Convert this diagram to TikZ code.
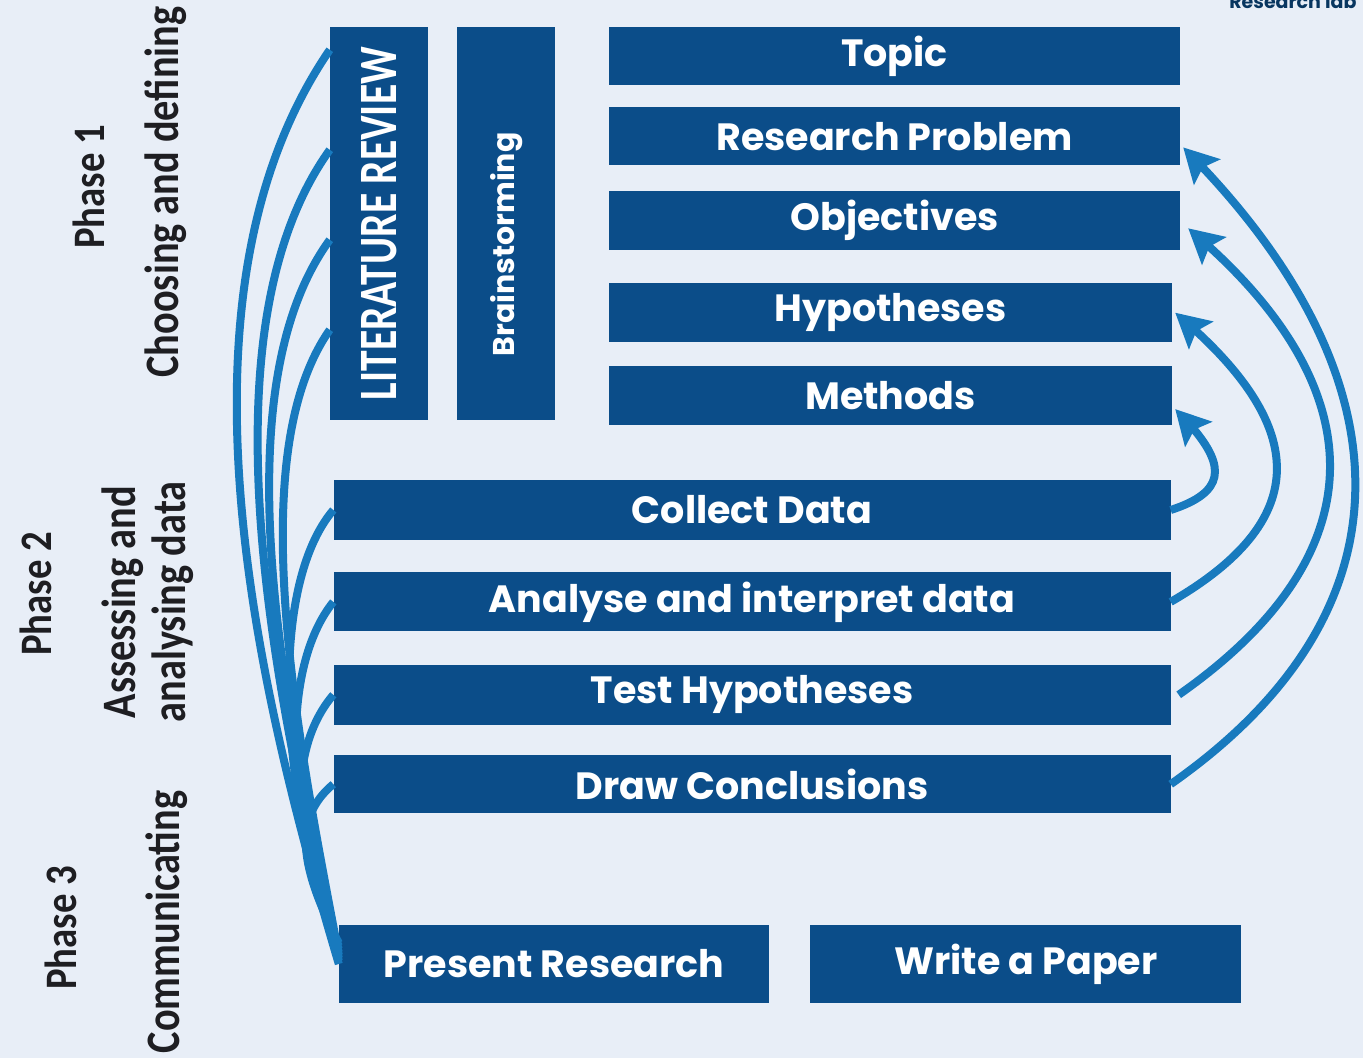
\documentclass[tikz,border=0pt]{standalone}
\usepackage{fontspec}
\newfontfamily\boxfont{Poppins}
\newfontfamily\labelfont{Carlito}
\usetikzlibrary{arrows.meta, bending, positioning}
\definecolor{bgpaper}{RGB}{232,238,247}
\definecolor{barblue}{RGB}{11,77,137}
\definecolor{curveblue}{RGB}{24,122,190}
\definecolor{labelgray}{RGB}{30,30,34}
\newcommand{\narrow}[2][0.84]{\scalebox{#1}[1]{#2}}
\tikzset{%
  bar/.style={fill=barblue, text=white, inner sep=0pt, minimum height=59pt,
    font=\boxfont\bfseries\fontsize{38}{42}\selectfont},
  column/.style={bar, minimum width=98pt, minimum height=393pt},
  phase/.style={text=labelgray, inner sep=0pt, rotate=90,
    font=\labelfont\bfseries\fontsize{48}{50}\selectfont},
  phase title/.style={phase, font=\labelfont\bfseries\fontsize{45}{48}\selectfont},
  branch/.style={draw=curveblue, line width=8pt},
  loopback/.style={draw=curveblue, line width=8pt,
    -{Stealth[length=34pt,width=36pt,inset=6pt]}},
}

\begin{document}
\begin{tikzpicture}[x=1pt, y=1pt]
  \fill[bgpaper] (0,0) rectangle (1363,1058);
  \useasboundingbox (0,0) rectangle (1363,1058);

  % phase labels
  \node[phase title] (p1) at (89,871) {\narrow[0.86]{Phase 1}};
  \node[phase] (p1text) at (166,866) {\narrow{Choosing and defining}};
  \node[phase title] (p2) at (36,464) {\narrow[0.86]{Phase 2}};
  \node[phase] (p2text) at (150,456) {\narrow{\begin{tabular}{@{}c@{}}Assessing and\\analysing data\end{tabular}}};
  \node[phase title] (p3) at (61,130) {\narrow[0.86]{Phase 3}};
  \node[phase] (p3text) at (167,136) {\narrow{Communicating}};

  % phase 1
  \node[column] (lit) at (379,834.5) {\rotatebox{90}{\narrow[0.77]{\labelfont\bfseries\fontsize{54}{54}\selectfont LITERATURE REVIEW}}};
  \node[column, right=29pt of lit] (brain) {\rotatebox{90}{\fontsize{30}{32}\selectfont\hspace*{-42pt}Brainstorming}};

  \node[bar, minimum width=571pt, minimum height=58pt] (topic) at (894.5,1002) {Topic};
  \node[bar, minimum width=571pt, minimum height=58pt, below=22pt of topic] (problem) {Research Problem};
  \node[bar, minimum width=571pt, below=25pt of problem] (objectives) {Objectives};
  \node[bar, minimum width=563pt, below=33pt of objectives.south west, anchor=north west] (hypotheses) {Hypotheses};
  \node[bar, minimum width=563pt, below=23pt of hypotheses.south west, anchor=north west] (methods) {Methods};

  % phase 2
  \node[bar, minimum width=837pt, minimum height=60pt] (collect) at (752,548) {Collect Data};
  \node[bar, minimum width=837pt, below=32pt of collect] (analyse) {Analyse and interpret data};
  \node[bar, minimum width=837pt, minimum height=60pt, below=33pt of analyse] (test) {Test Hypotheses};
  \node[bar, minimum width=837pt, minimum height=58pt, below=30pt of test] (conclude) {Draw Conclusions};

  % phase 3
  \node[bar, minimum width=430pt, minimum height=78pt] (present) at (554,94) {Present Research};
  \node[bar, minimum width=431pt, minimum height=78pt, right=41pt of present] (paper) {Write a Paper};

  \node[text=barblue!70!black, font=\boxfont\bfseries\fontsize{19}{19}\selectfont, anchor=base east] (mark) at (1360,1049) {Research lab};

  % branches on the left
  \draw[branch] (present.west) .. controls +(-79,266) and +(-170,-248) .. ([yshift=-23pt]lit.north west);
  \draw[branch] ([yshift=3pt]present.west) .. controls +(-59,246) and +(-135,-188) .. ([yshift=-123pt]lit.north west);
  \draw[branch] ([yshift=6pt]present.west) .. controls +(-49,226) and +(-115,-158) .. ([yshift=-213pt]lit.north west);
  \draw[branch] ([yshift=9pt]present.west) .. controls +(-39,206) and +(-90,-128) .. ([yshift=-303pt]lit.north west);
  \draw[branch] ([yshift=12pt]present.west) .. controls +(-59,156) and +(-66,-78) .. (collect.west);
  \draw[branch] ([yshift=15pt]present.west) .. controls +(-54,136) and +(-53,-66) .. (analyse.west);
  \draw[branch] ([yshift=18pt]present.west) .. controls +(-49,106) and +(-45,-53) .. (test.west);
  \draw[branch] ([yshift=21pt]present.west) .. controls +(-39,76) and +(-41,-34) .. (conclude.west);

  % arrows on the right
  \draw[loopback] (collect.east) .. controls +(62,20) and +(50,-50) .. ([xshift=3pt, yshift=-14pt]methods.east);
  \draw[loopback] (analyse.east) to[out=30, in=-40, looseness=1.5] ([xshift=3pt]hypotheses.east);
  \draw[loopback] ([xshift=8pt]test.east) to[out=35, in=-40, looseness=1.35] ([xshift=8pt, yshift=-8pt]objectives.east);
  \draw[loopback] (conclude.east) to[out=35, in=-45, looseness=1.25] ([xshift=3pt, yshift=-11pt]problem.east);
\end{tikzpicture}
\end{document}
